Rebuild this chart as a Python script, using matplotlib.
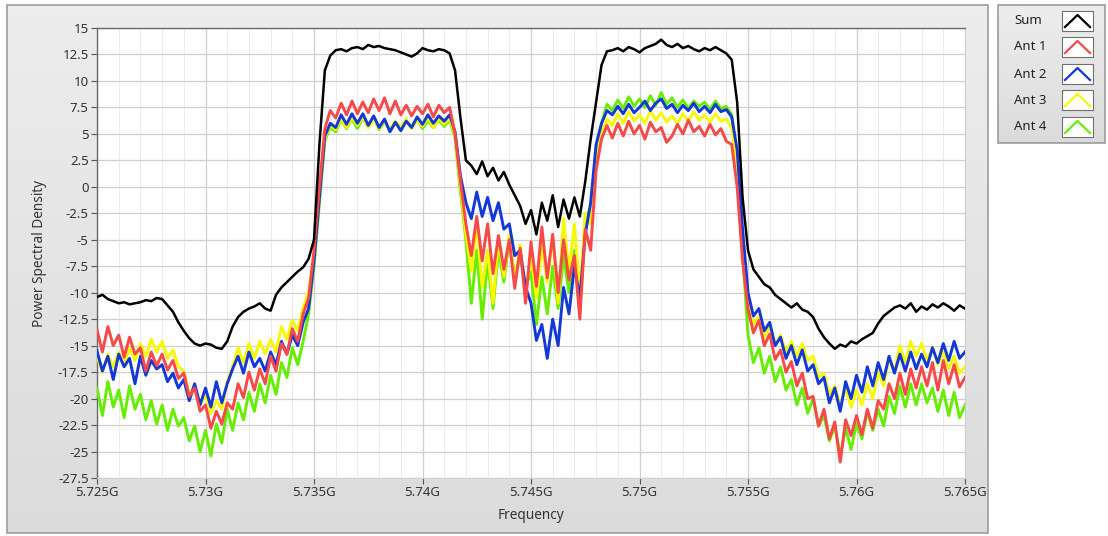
import numpy as np
import matplotlib
matplotlib.use("Agg")
import matplotlib.pyplot as plt
from matplotlib.patches import Rectangle

plt.rcParams['font.family'] = ['Noto Sans', 'DejaVu Sans']

# ------------------------------------------------------
# DATA (0.25 MHz bins, 5.725G .. 5.765G)
# ------------------------------------------------------

freq = np.linspace(5.725e9, 5.765e9, 161)

psd_sum = [
    -10.4, -10.2, -10.6, -10.8, -11.0, -10.9, -11.1, -11.0,
    -10.9, -10.7, -10.8, -10.5, -10.6, -11.2, -11.8, -12.8,
    -13.6, -14.3, -14.8, -15.0, -14.8, -14.9, -15.2, -15.3,
    -14.6, -13.2, -12.3, -11.8, -11.5, -11.3, -11.0, -11.5,
    -11.7, -10.2, -9.5, -9.0, -8.5, -8.0, -7.6, -6.8,
    -5.0, 4.0, 11.0, 12.4, 12.9, 13.0, 12.8, 13.1,
    13.2, 13.0, 13.4, 13.2, 13.3, 13.1, 13.0, 12.9,
    12.7, 12.5, 12.3, 12.6, 13.1, 12.9, 12.8, 13.0,
    12.9, 12.6, 11.0, 6.5, 2.5, 2.0, 1.2, 2.4,
    1.0, 1.8, 0.6, 1.4, 0.2, -0.8, -1.8, -3.5,
    -2.2, -4.5, -1.5, -3.2, -0.8, -3.8, -1.2, -3.0,
    -1.0, -2.8, 0.5, 4.5, 8.0, 11.5, 12.8, 12.9,
    13.1, 12.8, 13.2, 13.0, 12.7, 13.1, 13.3, 13.5,
    13.9, 13.4, 13.2, 13.5, 13.1, 13.3, 13.0, 12.8,
    13.1, 12.9, 13.2, 12.9, 12.6, 12.0, 8.0, -1.0,
    -6.0, -7.8, -8.5, -9.2, -9.5, -10.2, -10.6, -11.0,
    -11.4, -11.0, -11.6, -11.8, -12.3, -13.4, -14.2, -14.8,
    -15.3, -14.9, -15.1, -14.6, -14.8, -14.4, -14.1, -13.8,
    -12.9, -12.2, -11.8, -11.4, -11.2, -11.5, -11.0, -11.8,
    -11.3, -11.6, -11.1, -11.4, -11.0, -11.3, -11.7, -11.2,
    -11.5,
]

psd_ant1 = [
    -13.5, -15.6, -13.2, -15.0, -14.0, -16.1, -14.2, -15.8,
    -15.2, -17.4, -15.6, -16.9, -15.8, -17.3, -16.4, -18.1,
    -17.6, -19.8, -19.0, -21.2, -20.6, -22.8, -21.2, -22.4,
    -20.4, -21.0, -18.6, -19.9, -17.5, -19.2, -17.2, -18.6,
    -16.0, -17.4, -14.8, -15.8, -13.4, -14.6, -12.0, -10.5,
    -6.0, 0.0, 5.5, 7.2, 6.5, 7.9, 6.8, 8.1,
    6.9, 8.0, 7.0, 8.3, 7.2, 8.4, 6.9, 8.1,
    6.8, 7.7, 6.7, 7.6, 6.9, 7.8, 6.6, 7.7,
    7.0, 7.5, 5.0, 0.5, -3.5, -6.5, -2.8, -7.0,
    -3.5, -8.2, -4.6, -7.8, -5.0, -9.6, -5.8, -11.0,
    -5.2, -9.4, -3.8, -8.6, -4.5, -10.0, -5.0, -8.8,
    -6.5, -12.5, -4.0, -6.0, 1.6, 4.5, 5.8, 4.6,
    6.0, 4.8, 6.2, 5.0, 5.8, 4.5, 6.1, 5.2,
    5.6, 4.2, 4.8, 5.9, 5.0, 6.3, 5.2, 5.7,
    4.8, 5.9, 4.9, 5.5, 4.3, 4.0, 0.0, -7.0,
    -11.5, -13.8, -12.6, -15.0, -13.9, -16.3, -15.4, -17.5,
    -16.5, -18.8, -17.6, -20.0, -19.8, -22.6, -21.0, -23.8,
    -22.2, -26.0, -22.0, -23.5, -21.6, -23.4, -21.0, -22.8,
    -20.2, -21.0, -18.6, -20.0, -17.6, -19.6, -17.2, -19.0,
    -17.0, -18.8, -16.6, -19.2, -16.4, -18.6, -16.8, -18.9,
    -18.0,
]

psd_ant2 = [
    -15.5, -17.4, -16.0, -18.2, -15.8, -17.0, -16.2, -18.6,
    -16.0, -17.8, -16.4, -17.2, -16.8, -18.4, -17.6, -19.0,
    -18.2, -20.2, -18.6, -20.6, -19.0, -20.8, -18.4, -20.4,
    -18.6, -17.2, -16.0, -17.6, -15.6, -17.0, -16.2, -17.4,
    -15.6, -16.8, -14.6, -15.8, -14.0, -15.0, -12.8, -11.5,
    -7.0, -1.0, 4.8, 6.0, 5.6, 6.8, 5.9, 6.9,
    6.0, 6.9, 5.8, 6.7, 5.6, 6.4, 5.2, 6.1,
    5.3, 6.2, 5.6, 6.6, 5.9, 6.8, 6.0, 6.7,
    6.2, 6.8, 5.2, 1.0, -1.5, -3.0, -0.5, -2.8,
    -1.0, -3.2, -1.5, -4.0, -3.5, -6.5, -6.0, -9.5,
    -11.0, -14.5, -13.0, -16.2, -12.5, -15.0, -9.5, -12.0,
    -7.5, -10.5, -4.5, -1.5, 4.0, 6.0, 7.2, 6.8,
    7.6, 6.9, 7.8, 7.0, 7.5, 8.1, 7.2, 7.9,
    8.3, 7.4, 7.8, 7.0, 7.7, 7.2, 7.9, 7.1,
    7.6, 7.0, 7.8, 7.1, 7.3, 6.6, 3.5, -4.0,
    -10.0, -12.2, -11.5, -13.6, -12.8, -15.0, -14.2, -16.2,
    -15.0, -16.8, -15.4, -17.4, -16.8, -18.6, -18.0, -20.4,
    -19.0, -21.2, -18.4, -20.0, -17.8, -19.4, -17.0, -18.8,
    -16.6, -18.2, -16.0, -17.6, -15.8, -17.4, -15.6, -17.2,
    -15.8, -17.0, -15.2, -16.6, -14.8, -16.4, -14.6, -16.2,
    -15.6,
]

psd_ant3 = [
    -16.0, -17.5, -15.8, -17.0, -15.6, -16.8, -15.2, -16.4,
    -14.8, -16.0, -14.4, -15.6, -14.6, -16.2, -15.4, -17.0,
    -17.4, -19.6, -18.8, -20.6, -19.6, -21.4, -20.2, -21.0,
    -18.4, -17.0, -15.2, -16.6, -14.8, -16.2, -14.6, -15.8,
    -14.4, -15.6, -13.2, -14.4, -12.6, -13.6, -11.4, -10.0,
    -6.5, -0.5, 4.6, 5.8, 5.4, 6.4, 5.6, 6.5,
    5.8, 6.6, 5.6, 6.4, 5.5, 6.3, 5.4, 6.2,
    5.6, 6.4, 5.5, 6.3, 5.7, 6.5, 5.6, 6.4,
    5.9, 6.5, 4.8, 0.0, -4.5, -8.0, -3.5, -9.5,
    -6.0, -11.0, -5.0, -8.5, -4.5, -9.0, -5.5, -10.0,
    -6.5, -10.5, -5.5, -9.0, -4.5, -11.0, -3.0, -8.0,
    -3.5, -10.0, -2.5, -3.5, 2.5, 5.0, 6.4, 5.8,
    6.9, 6.0, 7.1, 6.2, 6.8, 6.0, 7.2, 6.3,
    7.0, 6.1, 6.7, 6.0, 6.9, 6.2, 7.1, 6.3,
    6.8, 6.1, 6.9, 6.2, 6.4, 5.6, 2.0, -5.0,
    -11.0, -13.0, -12.2, -14.2, -13.2, -15.0, -14.0, -15.6,
    -14.6, -16.0, -14.8, -16.4, -16.0, -18.0, -17.6, -19.6,
    -18.8, -20.6, -19.0, -20.8, -19.2, -20.6, -18.6, -20.0,
    -17.4, -18.8, -16.2, -17.4, -15.0, -16.6, -14.6, -16.0,
    -14.8, -16.4, -15.2, -16.8, -15.6, -17.2, -16.0, -17.6,
    -17.0,
]

psd_ant4 = [
    -19.0, -21.6, -18.4, -20.8, -19.2, -21.8, -18.8, -21.0,
    -19.6, -22.0, -20.2, -22.4, -20.6, -23.0, -21.0, -22.6,
    -21.8, -24.0, -22.6, -25.0, -23.0, -25.4, -22.4, -24.2,
    -21.0, -23.0, -20.4, -22.0, -19.4, -21.2, -18.6, -20.4,
    -17.8, -19.6, -16.6, -18.0, -15.2, -16.8, -14.6, -12.0,
    -7.5, -1.5, 4.4, 5.6, 5.2, 6.3, 5.5, 6.4,
    5.5, 6.5, 5.7, 6.6, 5.4, 6.2, 5.3, 6.1,
    5.5, 6.3, 5.6, 6.4, 5.5, 6.2, 5.6, 6.3,
    5.7, 6.3, 4.6, -0.5, -5.0, -11.0, -6.0, -12.5,
    -7.0, -11.5, -6.0, -9.0, -5.0, -8.5, -6.5, -9.5,
    -8.0, -13.0, -8.5, -12.0, -7.5, -11.5, -6.5, -10.0,
    -6.0, -12.0, -3.0, -2.0, 3.5, 6.0, 7.8, 7.2,
    8.2, 7.4, 8.5, 7.6, 8.3, 7.5, 8.6, 7.7,
    8.9, 7.8, 8.4, 7.5, 8.2, 7.4, 8.1, 7.6,
    8.0, 7.3, 8.1, 7.4, 7.6, 6.8, 2.5, -6.0,
    -14.0, -16.6, -15.2, -17.6, -16.0, -18.4, -17.0, -19.2,
    -18.2, -20.6, -19.0, -21.4, -20.0, -22.6, -21.6, -24.0,
    -22.6, -25.4, -22.8, -24.8, -22.4, -23.8, -21.2, -23.0,
    -21.0, -22.6, -19.8, -21.4, -18.8, -20.8, -18.6, -20.6,
    -18.6, -20.4, -19.0, -21.2, -19.2, -21.6, -19.4, -21.8,
    -20.6,
]

series_names = ["Sum", "Ant 1", "Ant 2", "Ant 3", "Ant 4"]
series_colors = ["#000000", "#f84848", "#1238d8", "#f8f800", "#66ee00"]

x_ticks = [5.725e9, 5.730e9, 5.735e9, 5.740e9, 5.745e9, 5.750e9, 5.755e9, 5.760e9, 5.765e9]
x_tick_labels = ["5.725G", "5.73G", "5.735G", "5.74G", "5.745G", "5.75G", "5.755G", "5.76G", "5.765G"]
y_ticks = [15, 12.5, 10, 7.5, 5, 2.5, 0, -2.5, -5, -7.5, -10, -12.5, -15, -17.5, -20, -22.5, -25, -27.5]

# ------------------------------------------------------
# FIGURE + PANEL BACKGROUNDS (pixel coordinates)
# ------------------------------------------------------

W, H = 1108, 536
fig = plt.figure(figsize=(W / 100, H / 100), dpi=100)
fig.patch.set_facecolor("white")

bg = fig.add_axes([0, 0, 1, 1], zorder=0)
bg.axis("off")

grad = np.linspace(0.93, 0.86, 200).reshape(-1, 1)
bg.imshow(np.dstack([grad, grad, grad]), extent=(7, 988, 533, 5), aspect="auto", zorder=0)
bg.add_patch(Rectangle((7, 5), 981, 528, fill=False, edgecolor="#9c9c9c", lw=1.2, zorder=1))

# legend panel
bg.imshow(np.dstack([grad, grad, grad]), extent=(998, 1105, 143, 5), aspect="auto", zorder=0)
bg.add_patch(Rectangle((998, 5), 107, 138, fill=False, edgecolor="#9c9c9c", lw=1.2, zorder=1))

row_y = [21, 47, 74, 100, 127]
for name, col, ry in zip(series_names, series_colors, row_y):
    bg.text(1014, ry, name, ha="left", va="center", fontsize=9.5, color="#222222")
    bg.add_patch(Rectangle((1062, ry - 10), 31, 20, facecolor="white", edgecolor="#707070", lw=0.8, zorder=2))
    bg.plot([1065, 1077.5, 1090], [ry + 6, ry - 6, ry + 6], color=col, lw=1.6, zorder=3)

bg.set_xlim(0, W)
bg.set_ylim(H, 0)

# ------------------------------------------------------
# MAIN PLOT
# ------------------------------------------------------

ax = fig.add_axes([97 / W, 1 - 478 / H, 868 / W, 450 / H], zorder=2)
ax.set_facecolor("white")

all_series = [psd_sum, psd_ant1, psd_ant2, psd_ant3, psd_ant4]
draw_order = [4, 3, 2, 1, 0]
for k in draw_order:
    lw = 1.8 if k == 0 else 2.1
    ax.plot(freq, all_series[k], color=series_colors[k], lw=lw, zorder=3 + (4 - k))

ax.set_xlim(5.725e9, 5.765e9)
ax.set_ylim(-27.5, 15)
ax.set_xticks(x_ticks)
ax.set_xticklabels(x_tick_labels)
ax.set_yticks(y_ticks)
ax.set_yticklabels([f"{v:g}" for v in y_ticks])
ax.set_xticks(np.arange(5.725e9, 5.765e9, 1e6), minor=True)

ax.grid(True, which="major", color="#cfcfcf", lw=0.9)
ax.grid(True, which="minor", axis="x", color="#ececec", lw=0.7)
ax.set_axisbelow(True)

ax.tick_params(axis="both", which="major", direction="out", length=4, width=0.8,
               color="#555555", labelcolor="#333333", labelsize=9.5, pad=2)
ax.tick_params(axis="both", which="minor", length=0)

for side in ["top", "left"]:
    ax.spines[side].set_color("#6a6a6a")
    ax.spines[side].set_linewidth(1.0)
for side in ["bottom", "right"]:
    ax.spines[side].set_color("#d0d0d0")
    ax.spines[side].set_linewidth(0.8)

ax.set_xlabel("Frequency", fontsize=9.8, color="#333333", va="center")
ax.set_ylabel("Power Spectral Density", fontsize=9.8, color="#333333", va="center")
ax.xaxis.set_label_coords(0.5, -0.084)
ax.yaxis.set_label_coords(-0.066, 0.5)

fig.savefig("out.png", dpi=100)
